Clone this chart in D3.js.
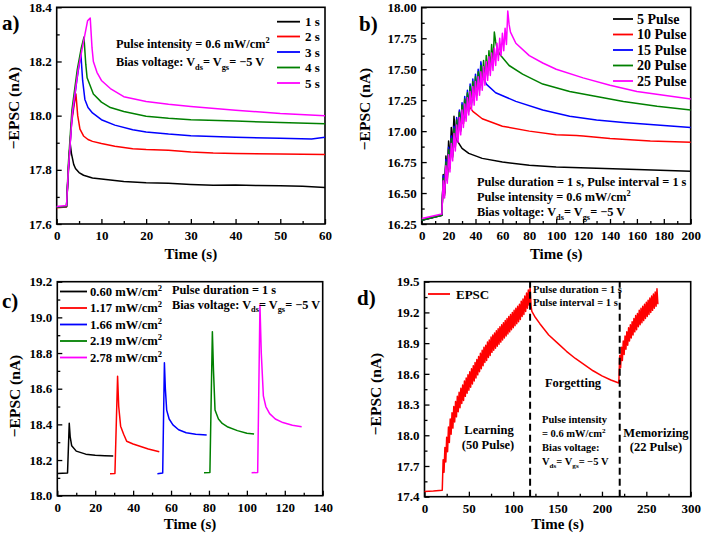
<!DOCTYPE html>
<html><head><meta charset="utf-8">
<script src="https://cdn.jsdelivr.net/npm/d3@7"></script>
<style>
body{margin:0;background:#fff}
svg{display:block}
text{font-family:"Liberation Serif","Times New Roman",serif;font-weight:bold;fill:#000}
</style></head>
<body><svg id="chart" width="702" height="538"></svg>
<script>
// ---------------- shared ----------------
const colors = ["#000000", "#ff0000", "#0000ff", "#008000", "#ff00ff"];
const PULSE_DURATION = 1, PULSE_INTERVAL = 1; // s, from the annotations

// ---------------- panel a ----------------
const aLabels = ["1 s", "2 s", "3 s", "4 s", "5 s"];
const aXTicks = [0, 10, 20, 30, 40, 50, 60];
const aYTicks = [17.6, 17.8, 18.0, 18.2, 18.4];
const a1 = [[0,17.662],[2.2,17.665],[2.5,17.76],[3.0,17.9],[3.3,17.86],[3.8,17.82],[4.2,17.805],[5,17.79],[6,17.78],[8,17.77],[10,17.766],[15,17.757],[20,17.752],[25,17.75],[30,17.746],[35,17.743],[40,17.744],[45,17.742],[50,17.741],[55,17.739],[60,17.735]];
const a2 = [[0,17.66],[2.2,17.663],[2.6,17.8],[3.3,17.97],[3.9,18.04],[4.3,18.08],[4.7,18.0],[5.2,17.95],[6,17.925],[7,17.912],[8,17.905],[10,17.897],[13,17.887],[17,17.878],[20,17.875],[25,17.872],[30,17.866],[35,17.862],[40,17.86],[50,17.858],[60,17.857]];
const a3 = [[0,17.663],[2.2,17.665],[2.6,17.8],[3.4,17.99],[4.5,18.13],[5.4,18.23],[5.8,18.13],[6.3,18.06],[7,18.03],[8,18.01],[10,17.985],[13,17.965],[17,17.948],[20,17.94],[25,17.932],[30,17.926],[40,17.92],[50,17.917],[57,17.914],[60,17.92]];
const a4 = [[0,17.663],[2.2,17.665],[2.6,17.82],[3.4,18.02],[4.6,18.17],[5.5,18.25],[6.1,18.29],[6.5,18.19],[6.8,18.14],[8.2,18.08],[10,18.05],[12,18.03],[15,18.015],[20,17.998],[25,17.99],[30,17.985],[40,17.98],[50,17.975],[60,17.97]];
const a5 = [[0,17.665],[2.2,17.668],[2.6,17.8],[3.5,18.01],[4.8,18.17],[6.2,18.29],[6.9,18.35],[7.5,18.36],[7.9,18.25],[8.2,18.2],[9,18.16],[10,18.13],[12,18.1],[15,18.07],[20,18.052],[25,18.042],[30,18.034],[40,18.02],[50,18.008],[60,18.0]];

// ---------------- panel b ----------------
const bLabels = ["5 Pulse", "10 Pulse", "15 Pulse", "20 Pulse", "25 Pulse"];
const bXTicks = [0, 20, 40, 60, 80, 100, 120, 140, 160, 180, 200];
const bYTicks = [16.25, 16.50, 16.75, 17.00, 17.25, 17.50, 17.75, 18.00];
const bPulseStart = 15;
const bBase = [[0,16.28],[15,16.32]];
const bBaseM = [[0,16.295],[15,16.33]];
const b5Peaks = [16.65,16.80,16.92,17.03,17.12];
const b5Troughs = [16.50,16.64,16.76,16.87];
const b5Tail = [[25,16.98],[26,16.93],[30,16.86],[35,16.82],[45,16.78],[60,16.75],[80,16.725],[100,16.71],[130,16.70],[160,16.69],[200,16.675]];
const b10Peaks = [16.63,16.76,16.86,16.95,17.03,17.10,17.16,17.21,17.26,17.30];
const b10Troughs = [16.49,16.61,16.71,16.80,16.88,16.95,17.01,17.06,17.11];
const b10Tail = [[35,17.22],[36,17.19],[38,17.16],[45,17.10],[60,17.04],[80,17.00],[100,16.97],[115,16.965],[120,16.96],[140,16.94],[170,16.92],[200,16.91]];
const b15Peaks = [16.64,16.77,16.87,16.96,17.04,17.11,17.17,17.23,17.28,17.33,17.38,17.42,17.46,17.50,17.56];
const b15Troughs = [16.50,16.62,16.72,16.81,16.89,16.96,17.02,17.08,17.13,17.18,17.23,17.27,17.31,17.35];
const b15Tail = [[45,17.48],[46,17.43],[48,17.38],[55,17.31],[70,17.24],[90,17.17],[110,17.12],[130,17.09],[150,17.07],[175,17.05],[200,17.03]];
const b20Peaks = [16.62,16.75,16.85,16.94,17.02,17.09,17.15,17.21,17.26,17.31,17.36,17.40,17.44,17.48,17.53,17.57,17.61,17.65,17.70,17.80];
const b20Troughs = [16.48,16.60,16.70,16.79,16.87,16.94,17.00,17.06,17.11,17.16,17.21,17.25,17.29,17.33,17.37,17.41,17.45,17.49,17.53];
const b20Tail = [[55,17.72],[56,17.67],[58,17.62],[65,17.53],[75,17.46],[90,17.38],[110,17.32],[130,17.28],[150,17.24],[175,17.20],[200,17.17]];
const b25Peaks = [16.60,16.72,16.81,16.90,16.98,17.05,17.11,17.17,17.22,17.27,17.32,17.36,17.40,17.44,17.48,17.52,17.56,17.60,17.63,17.67,17.71,17.75,17.79,17.83,17.97];
const b25Troughs = [16.46,16.58,16.67,16.76,16.84,16.91,16.97,17.03,17.08,17.13,17.17,17.21,17.25,17.29,17.33,17.37,17.41,17.45,17.49,17.53,17.57,17.61,17.65,17.70];
const b25Tail = [[65,17.86],[66,17.80],[70,17.71],[80,17.61],[90,17.55],[100,17.50],[120,17.43],[140,17.37],[160,17.32],[180,17.29],[200,17.26]];

// ---------------- panel c ----------------
const cLabels = ["0.60", "1.17", "1.66", "2.19", "2.78"];
const cXTicks = [0, 20, 40, 60, 80, 100, 120, 140];
const cYTicks = [18.0, 18.2, 18.4, 18.6, 18.8, 19.0, 19.2];
const c1 = [[0,18.125],[5.4,18.127],[6.3,18.406],[6.8,18.33],[7.6,18.28],[10,18.25],[15,18.233],[20,18.227],[25,18.224],[29.5,18.222]];
const c2 = [[27.8,18.123],[30.4,18.125],[31.8,18.67],[32.4,18.5],[33.4,18.39],[35,18.345],[36.6,18.305],[40,18.29],[44,18.276],[48,18.262],[53.8,18.246]];
const c3 = [[52.8,18.123],[55.6,18.127],[56.5,18.746],[57,18.6],[57.7,18.48],[59,18.43],[61,18.397],[64,18.37],[68,18.353],[73,18.345],[78.8,18.34]];
const c4 = [[77.4,18.129],[80.5,18.13],[81.8,18.92],[82.4,18.7],[83.2,18.48],[85,18.43],[87,18.405],[90,18.385],[95,18.365],[100,18.35],[103.8,18.346]];
const c5 = [[102.5,18.128],[105.7,18.13],[106.9,19.07],[107.6,18.8],[108.7,18.56],[110,18.5],[112,18.46],[115,18.43],[119,18.41],[124,18.395],[128.9,18.387]];

// ---------------- panel d ----------------
const dXTicks = [0, 50, 100, 150, 200, 250, 300];
const dYTicks = [17.4, 17.7, 18.0, 18.3, 18.6, 18.9, 19.2, 19.5];
const dBase = [[0,17.45],[10,17.455],[20,17.462]];
const dLearnStart = 20;
const dLearnPeaks = [17.76,17.88,17.98,18.08,18.16,18.22,18.28,18.33,18.38,18.42,18.46,18.49,18.53,18.56,18.59,18.62,18.65,18.68,18.71,18.74,18.77,18.80,18.83,18.86,18.88,18.91,18.93,18.96,18.98,19.00,19.02,19.04,19.06,19.08,19.10,19.12,19.14,19.16,19.18,19.20,19.22,19.24,19.26,19.28,19.31,19.33,19.36,19.39,19.42,19.45];
const dLearnTroughs = [17.64,17.74,17.84,17.93,18.01,18.07,18.13,18.18,18.23,18.27,18.31,18.34,18.38,18.41,18.44,18.47,18.50,18.53,18.56,18.59,18.62,18.65,18.68,18.71,18.73,18.76,18.78,18.81,18.83,18.85,18.87,18.89,18.91,18.93,18.95,18.97,18.99,19.01,19.03,19.05,19.07,19.09,19.11,19.13,19.16,19.18,19.21,19.24,19.27];
const dForget = [[120,19.27],[121,19.21],[125,19.15],[130,19.09],[140,18.98],[150,18.90],[160,18.82],[170,18.75],[180,18.69],[190,18.63],[200,18.58],[210,18.54],[219,18.51]];
const dMemoStart = 219;
const dMemoPeaks = [18.78,18.86,18.92,18.97,19.01,19.05,19.08,19.11,19.14,19.17,19.19,19.22,19.24,19.26,19.28,19.30,19.32,19.34,19.36,19.38,19.40,19.43];
const dMemoTroughs = [18.66,18.73,18.79,18.84,18.88,18.92,18.95,18.98,19.01,19.03,19.06,19.08,19.10,19.12,19.14,19.16,19.18,19.20,19.22,19.24,19.26,19.28];
const dPhaseTimes = [119, 220];

// ---------------- helpers ----------------
function pulseTrain(base, start, peaks, troughs, tail) {
  const period = PULSE_DURATION + PULSE_INTERVAL;
  const pts = base.slice();
  peaks.forEach((p, k) => {
    pts.push([start + period * k + PULSE_DURATION, p]);
    if (k < troughs.length) pts.push([start + period * (k + 1), troughs[k]]);
  });
  return pts.concat(tail || []);
}

const svg = d3.select("#chart");

function panel(p) {
  const g = svg.append("g");
  const x = d3.scaleLinear().domain(p.xd).range([p.l, p.r]);
  const y = d3.scaleLinear().domain(p.yd).range([p.b, p.t]);
  const minor = arr => arr.slice(0, -1).map((v, i) => (v + arr[i + 1]) / 2);
  const style = sel => {
    sel.select(".domain").remove();
    sel.selectAll("line").attr("stroke", "#000").attr("stroke-width", 1.3);
    sel.selectAll("text").attr("font-size", 13).attr("font-family", null).attr("fill", "#000");
  };
  g.append("g").attr("transform", `translate(0,${p.b})`)
    .call(d3.axisBottom(x).tickValues(p.xt).tickSize(-5).tickPadding(7).tickFormat(d3.format("d"))).call(style);
  g.append("g").attr("transform", `translate(0,${p.b})`)
    .call(d3.axisBottom(x).tickValues(minor(p.xt)).tickSize(-3).tickFormat("")).call(style);
  g.append("g").attr("transform", `translate(${p.l},0)`)
    .call(d3.axisLeft(y).tickValues(p.yt).tickSize(-5).tickPadding(5).tickFormat(d3.format(p.yf))).call(style);
  g.append("g").attr("transform", `translate(${p.l},0)`)
    .call(d3.axisLeft(y).tickValues(minor(p.yt)).tickSize(-3).tickFormat("")).call(style);
  g.append("rect").attr("x", p.l).attr("y", p.t).attr("width", p.r - p.l).attr("height", p.b - p.t)
    .attr("fill", "none").attr("stroke", "#000").attr("stroke-width", 1.6);
  // titles
  g.append("text").attr("x", (p.l + p.r) / 2).attr("y", p.xty).attr("text-anchor", "middle")
    .attr("font-size", 15).text("Time (s)");
  g.append("text").attr("transform", `translate(${p.ytx},${p.yty}) rotate(-90)`).attr("text-anchor", "middle")
    .attr("font-size", 15.5).text("\u2212EPSC (nA)");
  g.append("text").attr("x", p.lx).attr("y", p.ly).attr("font-size", 21).text(p.label);
  const line = d3.line().x(d => x(d[0])).y(d => y(d[1]));
  return { g, x, y, line };
}

function rich(g, x, y, parts, size, anchor) {
  const t = g.append("text").attr("x", x).attr("y", y).attr("font-size", size)
    .attr("text-anchor", anchor || "start");
  let shift = 0;
  parts.forEach(([s, kind]) => {
    const ts = t.append("tspan").text(s);
    let target = kind === "sub" ? 0.3 : kind === "sup" ? -0.4 : 0;
    if (kind) ts.attr("font-size", size * 0.68);
    const dyPx = (target - shift) * size;
    if (dyPx !== 0) ts.attr("dy", dyPx);
    shift = target;
  });
  return t;
}
const biasParts = [["Bias voltage: V"], ["ds", "sub"], ["= V"], ["gs", "sub"], ["= \u22125 V"]];
const intensityParts = [["Pulse intensity = 0.6 mW/cm"], ["2", "sup"]];

function legend(g, items, x1, x2, tx, ys, size) {
  items.forEach((it, i) => {
    g.append("line").attr("x1", x1).attr("x2", x2).attr("y1", ys[i]).attr("y2", ys[i])
      .attr("stroke", it.color).attr("stroke-width", 1.8);
    if (it.parts) rich(g, tx, ys[i] + size * 0.35, it.parts, size);
    else g.append("text").attr("x", tx).attr("y", ys[i] + size * 0.35).attr("font-size", size).text(it.label);
  });
}

function drawLines(P, series) {
  series.forEach((s, i) => {
    P.g.append("path").attr("d", P.line(s)).attr("fill", "none")
      .attr("stroke", colors[i]).attr("stroke-width", 1.5).attr("stroke-linejoin", "round");
  });
}

// ---------------- panel a ----------------
const A = panel({ l: 56.7, r: 325, t: 7.3, b: 224, xd: [0, 60], yd: [17.6, 18.4], xt: aXTicks, yt: aYTicks, yf: ".1f",
  xty: 259, ytx: 19, yty: 108, label: "a)", lx: 2, ly: 30 });
drawLines(A, [a1, a2, a3, a4, a5]);
legend(A.g, aLabels.map((l, i) => ({ label: l, color: colors[i] })), 277, 300, 305, [21.7, 36.5, 52, 67.5, 83], 13);
rich(A.g, 116, 48, intensityParts, 12.3);
rich(A.g, 116, 66, biasParts, 12.3);

// ---------------- panel b ----------------
const B = panel({ l: 421.7, r: 690.7, t: 7.3, b: 224, xd: [0, 200], yd: [16.25, 18.0], xt: bXTicks, yt: bYTicks, yf: ".2f",
  xty: 259, ytx: 370, yty: 109, label: "b)", lx: 359, ly: 31 });
drawLines(B, [
  pulseTrain(bBase, bPulseStart, b5Peaks, b5Troughs, b5Tail),
  pulseTrain(bBase, bPulseStart, b10Peaks, b10Troughs, b10Tail),
  pulseTrain(bBase, bPulseStart, b15Peaks, b15Troughs, b15Tail),
  pulseTrain(bBase, bPulseStart, b20Peaks, b20Troughs, b20Tail),
  pulseTrain(bBaseM, bPulseStart, b25Peaks, b25Troughs, b25Tail)
]);
legend(B.g, bLabels.map((l, i) => ({ label: l, color: colors[i] })), 613, 633, 637, [19, 34.5, 50, 65.5, 81], 14);
B.g.append("text").attr("x", 477).attr("y", 185.5).attr("font-size", 12.3).text("Pulse duration = 1 s, Pulse interval = 1 s");
rich(B.g, 477, 200.5, intensityParts, 12.3);
rich(B.g, 477, 216, biasParts, 12.3);

// ---------------- panel c ----------------
const C = panel({ l: 57.3, r: 322.7, t: 281.7, b: 495.7, xd: [0, 140], yd: [18.0, 19.2], xt: cXTicks, yt: cYTicks, yf: ".1f",
  xty: 529, ytx: 20, yty: 396, label: "c)", lx: 2, ly: 308 });
drawLines(C, [c1, c2, c3, c4, c5]);
legend(C.g, cLabels.map((l, i) => ({ color: colors[i], parts: [[l + " mW/cm"], ["2", "sup"]] })), 60, 87, 90,
  [291.5, 308, 324.5, 341, 357.5], 12.6);
C.g.append("text").attr("x", 172).attr("y", 293.5).attr("font-size", 12.3).text("Pulse duration = 1 s");
rich(C.g, 172, 308.5, biasParts, 12.3);

// ---------------- panel d ----------------
const D = panel({ l: 424.5, r: 690.7, t: 281.7, b: 496.7, xd: [0, 300], yd: [17.4, 19.5], xt: dXTicks, yt: dYTicks, yf: ".1f",
  xty: 529, ytx: 381, yty: 394, label: "d)", lx: 357, ly: 305 });
const dSeries = pulseTrain(dBase, dLearnStart, dLearnPeaks, dLearnTroughs, dForget)
  .concat(pulseTrain([], dMemoStart, dMemoPeaks, dMemoTroughs, []));
D.g.append("path").attr("d", D.line(dSeries)).attr("fill", "none").attr("stroke", colors[1])
  .attr("stroke-width", 1.5).attr("stroke-linejoin", "round");
dPhaseTimes.forEach(t => {
  D.g.append("line").attr("x1", D.x(t)).attr("x2", D.x(t)).attr("y1", D.y(17.4)).attr("y2", D.y(19.5))
    .attr("stroke", "#000").attr("stroke-width", 2).attr("stroke-dasharray", "7,4");
});
legend(D.g, [{ label: "EPSC", color: colors[1] }], 428, 450, 456, [294], 13);
D.g.append("text").attr("x", 533).attr("y", 293).attr("font-size", 10.5).text("Pulse duration = 1 s");
D.g.append("text").attr("x", 533).attr("y", 306).attr("font-size", 10.5).text("Pulse interval = 1 s");
D.g.append("text").attr("x", 573).attr("y", 387).attr("font-size", 12.5).attr("text-anchor", "middle").text("Forgetting");
D.g.append("text").attr("x", 489).attr("y", 434).attr("font-size", 12.5).attr("text-anchor", "middle").text("Learning");
D.g.append("text").attr("x", 488).attr("y", 449).attr("font-size", 12.5).attr("text-anchor", "middle").text("(50 Pulse)");
D.g.append("text").attr("x", 542).attr("y", 423).attr("font-size", 10.5).text("Pulse intensity");
rich(D.g, 542, 437, [["= 0.6 mW/cm"], ["2", "sup"]], 10.5);
D.g.append("text").attr("x", 542).attr("y", 451).attr("font-size", 10.5).text("Bias voltage:");
rich(D.g, 542, 465, [["V"], ["ds", "sub"], ["= V"], ["gs", "sub"], ["= \u22125 V"]], 10.5);
D.g.append("text").attr("x", 656).attr("y", 437).attr("font-size", 12.5).attr("text-anchor", "middle").text("Memorizing");
D.g.append("text").attr("x", 656).attr("y", 451).attr("font-size", 12.5).attr("text-anchor", "middle").text("(22 Pulse)");
</script>
</body></html>
